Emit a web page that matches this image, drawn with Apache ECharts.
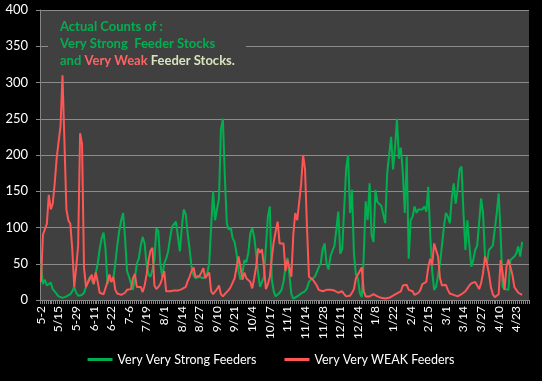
<!DOCTYPE html>
<html>
<head>
<meta charset="utf-8">
<script src="https://cdn.jsdelivr.net/npm/echarts@6/dist/echarts.min.js"></script>
<style>
html,body{margin:0;padding:0;background:#000;}
#chart{width:542px;height:381px;}
</style>
</head>
<body>
<div id="chart"></div>
<script>
// Tick labels shown every 9 trading days on the category axis
const tickLabels = ["5-2","5/15","5-29","6-11","6-22","7-6","7/19","8/1","8/14","8/27","9/10","9/21","10/4","10/17","11/1","11/14","11/28","12/11","12/24","1/8","1/22","2/4","2/15","3/1","3/14","3/27","4/10","4/23"];
const labelEvery = 9;
const categoryCount = 250;

const seriesNames = ["Very Very Strong Feeders", "Very Very WEAK Feeders"];

const strongValues = [
50,22,28,20,22,24,15,12,10,5,
4,3,4,5,7,8,12,18,10,6,
5,7,10,18,25,32,34,22,37,50,
70,85,93,70,22,30,25,30,50,75,
95,110,120,85,40,32,23,14,30,50,
57,75,87,78,48,35,32,42,55,99,
95,50,32,50,57,67,85,101,103,108,
106,67,100,125,118,92,70,45,34,30,
30,32,34,30,28,37,50,101,150,110,
110,140,235,250,170,106,97,100,85,80,
64,40,28,37,55,52,65,92,99,87,
64,37,18,18,32,74,115,129,28,12,
5,4,10,14,25,45,58,35,8,2,
2,5,7,9,8,12,16,25,28,28,
32,30,45,50,70,78,50,42,60,68,
74,97,122,64,70,125,180,200,120,152,
64,35,30,10,4,60,136,110,161,90,
80,152,135,133,130,130,106,175,200,225,
180,210,250,195,210,175,120,198,57,110,
115,129,120,125,127,125,129,122,156,90,
40,14,18,18,50,75,101,120,115,106,
140,161,133,152,180,184,120,69,110,75,
46,55,69,75,106,140,120,60,51,69,
69,75,97,120,147,90,18,15,14,14,
55,57,60,64,74,60,80];

const weakValues = [
25,90,92,105,145,125,133,160,195,218,
240,310,310,125,110,105,70,18,45,75,
230,215,45,18,20,30,35,22,38,25,
10,8,8,9,25,35,25,32,14,9,
7,7,8,10,14,12,15,30,36,18,
20,18,11,20,35,55,68,72,20,15,
18,22,30,40,12,10,12,14,13,12,
13,14,15,16,18,26,32,40,45,32,
30,33,38,44,30,28,38,12,8,9,
15,20,8,5,8,10,14,18,24,30,
32,60,45,28,38,30,30,25,16,30,
46,71,65,70,45,15,22,32,58,80,
95,108,78,80,78,40,55,45,32,90,
120,110,108,160,200,180,100,32,30,28,
28,20,14,14,12,14,14,13,14,12,
13,11,10,9,12,8,5,4,6,10,
15,30,28,40,45,12,5,4,5,7,
8,6,5,4,3,3,2,2,3,4,
6,7,9,11,12,20,18,21,14,14,
12,7,9,10,14,22,20,25,45,57,
48,78,80,60,30,20,18,21,14,9,
7,7,6,5,5,8,10,12,16,20,
23,22,25,20,15,23,37,60,50,37,
18,8,4,4,8,55,38,14,46,56,
56,35,18,14,10,12,7];

const categories = Array.from({length: categoryCount}, (_, i) => i);

const FONT = 'Lato';
const chart = echarts.init(document.getElementById('chart'), null, {renderer: 'canvas'});
chart.setOption({
  backgroundColor: '#000000',
  animation: false,
  textStyle: {fontFamily: FONT},
  grid: {
    left: 40, right: 13, top: 10, bottom: 81,
    show: true, backgroundColor: '#404040', borderWidth: 0
  },
  legend: {
    bottom: 10,
    left: 'center',
    itemGap: 28,
    itemWidth: 25,
    itemHeight: 3,
    icon: 'rect',
    textStyle: {color: '#ffffff', fontSize: 12.5, fontFamily: FONT},
    data: seriesNames
  },
  xAxis: {
    type: 'category',
    data: categories,
    boundaryGap: true,
    axisLine: {lineStyle: {color: '#868686', width: 1}},
    axisTick: {show: true, interval: 0, length: 4, lineStyle: {color: '#868686'}},
    axisLabel: {
      color: '#ffffff',
      fontSize: 12,
      fontFamily: FONT,
      rotate: 90,
      margin: 6,
      interval: (idx) => idx % labelEvery === 0,
      formatter: (val, idx) => (idx % labelEvery === 0 && tickLabels[idx / labelEvery]) ? tickLabels[idx / labelEvery] : ''
    },
    splitLine: {show: false}
  },
  yAxis: {
    type: 'value',
    min: 0, max: 400, interval: 50,
    axisLine: {show: true, lineStyle: {color: '#868686'}},
    axisTick: {show: true, length: 4, lineStyle: {color: '#868686'}},
    axisLabel: {color: '#ffffff', fontSize: 13, fontFamily: FONT, margin: 12},
    splitLine: {lineStyle: {color: '#8c8c8c', width: 1}}
  },
  graphic: [
    {type: 'rect', left: 48, top: 17, z: 10, shape: {width: 198, height: 56}, style: {fill: '#404040'}},
    {
      type: 'text', left: 60, top: 20, z: 11,
      style: {
        text: '{g|Actual Counts of :}\n{g|Very Strong  Feeder Stocks}\n{g|and }{r|Very Weak}{y| Feeder Stocks.}',
        rich: {
          g: {fill: '#00B050', fontSize: 13, fontWeight: 'bold', fontFamily: FONT, lineHeight: 17},
          r: {fill: '#FF6464', fontSize: 13, fontWeight: 'bold', fontFamily: FONT, lineHeight: 17},
          y: {fill: '#D7E4BD', fontSize: 13, fontWeight: 'bold', fontFamily: FONT, lineHeight: 17}
        }
      }
    }
  ],
  series: [
    {
      name: seriesNames[0], type: 'line', data: strongValues,
      symbol: 'none', color: '#00B050',
      lineStyle: {color: '#00B050', width: 2}
    },
    {
      name: seriesNames[1], type: 'line', data: weakValues,
      symbol: 'none', color: '#FF5555',
      lineStyle: {color: '#FF5555', width: 2}
    }
  ]
});
</script>
</body>
</html>
